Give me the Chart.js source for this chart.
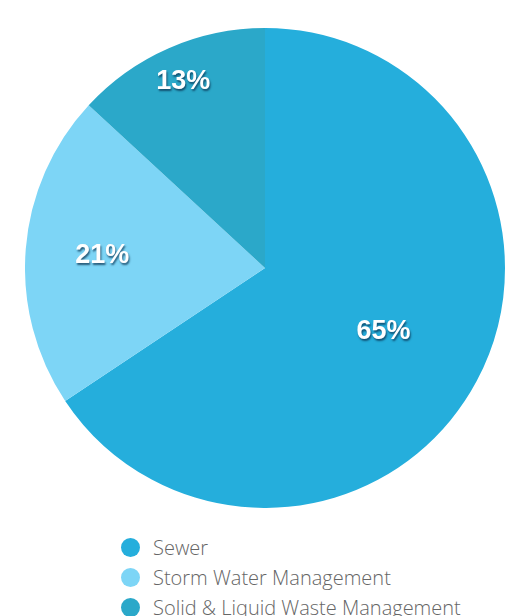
<!DOCTYPE html>
<html lang="en">
<head>
  <meta charset="UTF-8" />
  <title>Spending by Service</title>
  <script src="https://cdn.jsdelivr.net/npm/chart.js"></script>
  <style>
    html, body {
      margin: 0;
      padding: 0;
      background: #ffffff;
      overflow: hidden;
    }
    .page {
      position: relative;
      width: 505px;
      height: 616px;
    }
    .pie-wrap {
      position: absolute;
      left: 25px;
      top: 28px;
      width: 480px;
      height: 480px;
    }
    .legend {
      position: absolute;
      left: 121px;
      top: 532px;
      margin: 0;
      padding: 0;
      list-style: none;
      font-family: "Open Sans", sans-serif;
      font-weight: 300;
      font-size: 20px;
      color: #666666;
    }
    .legend li {
      display: flex;
      align-items: center;
      height: 30px;
      white-space: nowrap;
    }
    .legend .dot {
      width: 19px;
      height: 19px;
      border-radius: 50%;
      margin-right: 13px;
      flex: none;
    }
  </style>
</head>
<body>
  <div class="page">
    <div class="pie-wrap"><canvas id="sharePie"></canvas></div>
    <ul class="legend" id="legend"></ul>
  </div>

  <script>
    const categories = ['Sewer', 'Storm Water Management', 'Solid & Liquid Waste Management'];
    const shareValues = [65, 21, 13];
    const sliceColors = ['#25aedc', '#7dd5f6', '#2ba8c9'];

    // percentage text drawn inside each slice, pushed out along the slice's mid angle
    const sliceLabels = {
      id: 'sliceLabels',
      afterDatasetsDraw(chart, args, opts) {
        const ctx = chart.ctx;
        const arcs = chart.getDatasetMeta(0).data;
        ctx.save();
        ctx.font = 'bold 27px "Liberation Sans", Arial, sans-serif';
        ctx.textAlign = 'center';
        ctx.textBaseline = 'middle';
        ctx.fillStyle = '#ffffff';
        ctx.shadowColor = 'rgba(10, 50, 80, 0.75)';
        ctx.shadowOffsetX = 1;
        ctx.shadowOffsetY = 2;
        ctx.shadowBlur = 2;
        arcs.forEach((arc, i) => {
          const mid = (arc.startAngle + arc.endAngle) / 2;
          const r = arc.outerRadius * opts.radius[i];
          const x = arc.x + Math.cos(mid) * r;
          const y = arc.y + Math.sin(mid) * r;
          ctx.fillText(shareValues[i] + '%', x, y);
        });
        ctx.restore();
      }
    };

    new Chart(document.getElementById('sharePie'), {
      type: 'pie',
      data: {
        labels: categories,
        datasets: [{
          data: shareValues,
          backgroundColor: sliceColors,
          borderWidth: 0,
          hoverOffset: 0
        }]
      },
      options: {
        responsive: true,
        maintainAspectRatio: false,
        animation: false,
        layout: { padding: 0 },
        plugins: {
          legend: { display: false },
          tooltip: { enabled: false },
          sliceLabels: { radius: [0.56, 0.68, 0.85] }
        }
      },
      plugins: [sliceLabels]
    });

    const legend = document.getElementById('legend');
    categories.forEach((name, i) => {
      const li = document.createElement('li');
      const dot = document.createElement('span');
      dot.className = 'dot';
      dot.style.background = sliceColors[i];
      li.appendChild(dot);
      li.appendChild(document.createTextNode(name));
      legend.appendChild(li);
    });
  </script>
</body>
</html>
